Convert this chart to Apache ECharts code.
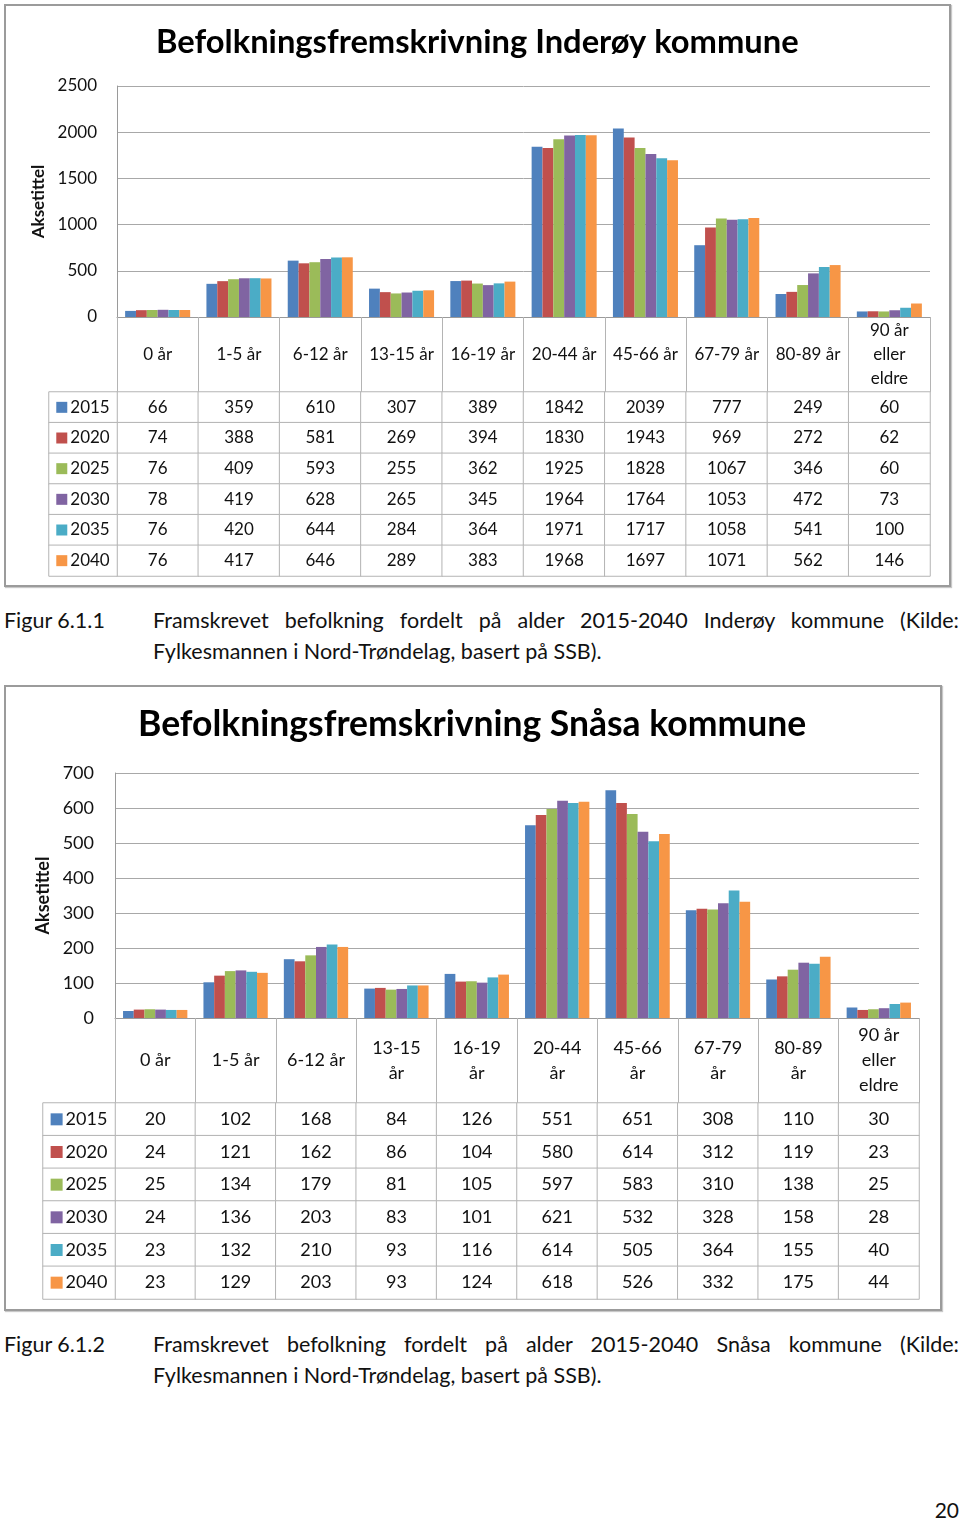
<!DOCTYPE html>
<html>
<head>
<meta charset="utf-8">
<script src="https://cdn.jsdelivr.net/npm/echarts@6/dist/echarts.min.js"></script>
<style>
  body { margin: 0; background: #fff; }
  #page { position: relative; width: 960px; height: 1523px; font-family: Lato, "Open Sans", sans-serif; color: #111; }
  .chart { position: absolute; left: 0; width: 960px; }
  .frame { position: absolute; box-sizing: border-box; border: 2px solid #9b9b9b; box-shadow: 1px 1px 1px #c8c8c8; pointer-events: none; }
  .fig { position: absolute; left: 4px; font-size: 21.5px; line-height: 31px; }
  .cap { position: absolute; left: 153px; width: 806px; font-size: 21.5px; line-height: 31px; }
  .cap .j { text-align: justify; text-align-last: justify; }
  .pnum { position: absolute; right: 1px; top: 1497px; font-size: 21px; }
</style>
</head>
<body>
<div id="page">
  <div id="c1" class="chart" style="top:0;height:600px"></div>
  <div class="frame" style="left:4px;top:4px;width:947px;height:583px"></div>
  <div class="fig" style="top:605px">Figur 6.1.1</div>
  <div class="cap" style="top:605px">
    <div class="j">Framskrevet befolkning fordelt på alder 2015-2040 Inderøy kommune (Kilde:</div>
    <div>Fylkesmannen i Nord-Trøndelag, basert på SSB).</div>
  </div>

  <div id="c2" class="chart" style="top:680px;height:640px"></div>
  <div class="frame" style="left:4px;top:685px;width:938px;height:626px"></div>
  <div class="fig" style="top:1329px">Figur 6.1.2</div>
  <div class="cap" style="top:1329px">
    <div class="j">Framskrevet befolkning fordelt på alder 2015-2040 Snåsa kommune (Kilde:</div>
    <div>Fylkesmannen i Nord-Trøndelag, basert på SSB).</div>
  </div>
  <div class="pnum">20</div>
</div>

<script>
// data
const years = ['2015', '2020', '2025', '2030', '2035', '2040']
const headerInderoy = ['0 år', '1-5 år', '6-12 år', '13-15 år', '16-19 år', '20-44 år', '45-66 år', '67-79 år', '80-89 år', '90 år\neller\neldre']
const headerSnasa = ['0 år', '1-5 år', '6-12 år', '13-15\når', '16-19\når', '20-44\når', '45-66\når', '67-79\når', '80-89\når', '90 år\neller\neldre']

const inderoy2015 = [66, 359, 610, 307, 389, 1842, 2039, 777, 249, 60]
const inderoy2020 = [74, 388, 581, 269, 394, 1830, 1943, 969, 272, 62]
const inderoy2025 = [76, 409, 593, 255, 362, 1925, 1828, 1067, 346, 60]
const inderoy2030 = [78, 419, 628, 265, 345, 1964, 1764, 1053, 472, 73]
const inderoy2035 = [76, 420, 644, 284, 364, 1971, 1717, 1058, 541, 100]
const inderoy2040 = [76, 417, 646, 289, 383, 1968, 1697, 1071, 562, 146]

const snasa2015 = [20, 102, 168, 84, 126, 551, 651, 308, 110, 30]
const snasa2020 = [24, 121, 162, 86, 104, 580, 614, 312, 119, 23]
const snasa2025 = [25, 134, 179, 81, 105, 597, 583, 310, 138, 25]
const snasa2030 = [24, 136, 203, 83, 101, 621, 532, 328, 158, 28]
const snasa2035 = [23, 132, 210, 93, 116, 614, 505, 364, 155, 40]
const snasa2040 = [23, 129, 203, 93, 124, 618, 526, 332, 175, 44]

const colors = ['#4f81bd', '#c0504d', '#9bbb59', '#8064a2', '#4bacc6', '#f79646']
const FONT = 'Lato, "Open Sans", sans-serif'

function buildOption(title, header, rows, yMax, yStep, L) {
  const cells = []
  rows.forEach((row, j) => row.forEach((v, i) => cells.push([i, j, v])))
  const yearCells = years.map((y, j) => [0, j, Number(y)])

  const rich = { y: { fontSize: L.font, fontFamily: FONT, color: '#111', padding: [0, 0, 0, 3] } }
  colors.forEach((c, k) => {
    rich['k' + k] = { backgroundColor: c, width: L.key, height: L.key }
  })

  const bars = rows.map((row, k) => ({
    name: years[k],
    type: 'bar',
    xAxisIndex: 0,
    yAxisIndex: 0,
    data: row,
    barGap: '0%',
    barCategoryGap: '20%',
    itemStyle: { color: colors[k] }
  }))

  return {
    animation: false,
    textStyle: { fontFamily: FONT },
    title: {
      text: title,
      left: L.titleX,
      top: L.titleY,
      textStyle: { fontSize: L.titleSize, fontWeight: 'bold', color: '#000', fontFamily: FONT }
    },
    grid: [
      { left: L.left, right: 960 - L.right, top: L.top, height: L.plotH },
      { left: L.left, right: 960 - L.right, top: L.tableTop, height: L.tableH },
      { left: L.tableLeft, width: L.left - L.tableLeft, top: L.tableTop, height: L.tableH }
    ],
    xAxis: [
      {
        type: 'category', gridIndex: 0, data: header,
        axisLine: { show: true, lineStyle: { color: '#9a9a9a' } },
        axisTick: { show: true, interval: 0, length: L.headH, lineStyle: { color: '#b4b4b4' } },
        axisLabel: {
          interval: 0, margin: L.headH / 2, verticalAlign: 'middle',
          fontSize: L.font, lineHeight: L.font + 7, color: '#111', fontFamily: FONT
        }
      },
      { type: 'category', gridIndex: 1, data: header, show: false },
      { type: 'category', gridIndex: 2, data: [''], show: false }
    ],
    yAxis: [
      {
        type: 'value', gridIndex: 0, min: 0, max: yMax, interval: yStep,
        name: 'Aksetittel', nameLocation: 'middle', nameGap: L.nameGap, nameRotate: 90,
        nameTextStyle: { fontSize: L.font, fontWeight: 'bold', color: '#111', fontFamily: FONT },
        axisLine: { show: true, lineStyle: { color: '#9a9a9a' } },
        axisTick: { show: false },
        axisLabel: { margin: L.labelGap, fontSize: L.font, color: '#111', fontFamily: FONT, formatter: v => String(v) },
        splitLine: { lineStyle: { color: '#a8a8a8' } }
      },
      { type: 'category', gridIndex: 1, data: years, inverse: true, show: false },
      { type: 'category', gridIndex: 2, data: years, inverse: true, show: false }
    ],
    series: [
      ...bars,
      {
        type: 'heatmap', xAxisIndex: 1, yAxisIndex: 1, data: cells,
        itemStyle: { color: '#fff', borderColor: '#b4b4b4', borderWidth: 1 },
        label: { show: true, formatter: p => p.value[2], fontSize: L.font, color: '#111', fontFamily: FONT },
        emphasis: { disabled: true }
      },
      {
        type: 'heatmap', xAxisIndex: 2, yAxisIndex: 2, data: yearCells,
        itemStyle: { color: '#fff', borderColor: '#b4b4b4', borderWidth: 1 },
        label: {
          show: true,
          formatter: p => '{k' + p.value[1] + '|}{y|' + p.value[2] + '}',
          rich: rich
        },
        emphasis: { disabled: true }
      }
    ]
  }
}

const chart1 = echarts.init(document.getElementById('c1'))
chart1.setOption(buildOption(
  'Befolkningsfremskrivning Inderøy kommune', headerInderoy,
  [inderoy2015, inderoy2020, inderoy2025, inderoy2030, inderoy2035, inderoy2040],
  2500, 500,
  {
    titleX: 151, titleY: 21, titleSize: 32.7,
    left: 117, right: 930, top: 86, plotH: 231,
    headH: 75, tableTop: 392, tableH: 184, tableLeft: 49,
    font: 17, key: 11, nameGap: 68, labelGap: 20
  }
))

const chart2 = echarts.init(document.getElementById('c2'))
chart2.setOption(buildOption(
  'Befolkningsfremskrivning Snåsa kommune', headerSnasa,
  [snasa2015, snasa2020, snasa2025, snasa2030, snasa2035, snasa2040],
  700, 100,
  {
    titleX: 133, titleY: 22, titleSize: 35.5,
    left: 115, right: 919, top: 93, plotH: 245,
    headH: 85, tableTop: 423, tableH: 196, tableLeft: 43,
    font: 18, key: 12, nameGap: 61, labelGap: 21
  }
))
</script>
</body>
</html>
